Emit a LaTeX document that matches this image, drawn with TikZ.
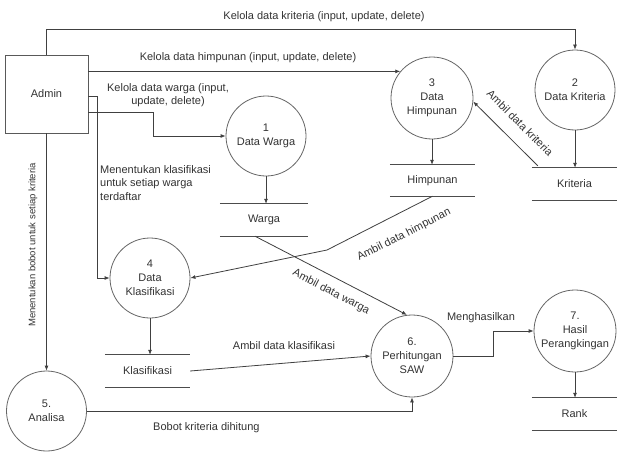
\documentclass[tikz,border=0pt]{standalone}
\usepackage{fontspec}
\setmainfont{Liberation Sans}
\usetikzlibrary{arrows.meta,calc}
\begin{document}
\begin{tikzpicture}[x=1pt,y=-1pt,
  every node/.style={text=black!80},
  ent/.style={draw=black!65, line width=0.8pt, minimum width=83pt, minimum height=78pt, inner sep=0pt, font=\fontsize{11}{13}\selectfont},
  proc/.style={circle, draw=black!60, line width=0.8pt, minimum size=80pt, inner sep=0pt, align=center, font=\fontsize{11}{14}\selectfont},
  store/.style={minimum width=85pt, minimum height=32pt, inner sep=0pt, font=\fontsize{11}{13}\selectfont},
  sline/.style={draw=black!70, line width=0.8pt},
  flow/.style={draw=black!75, line width=0.8pt, -{Latex[length=5pt,width=4pt]}},
  lbl/.style={font=\fontsize{11}{13.5}\selectfont, inner sep=1pt}
]
\useasboundingbox[fill=white] (0,0) rectangle (617,452);

% external entity
\node[ent] (admin) at (46.5,94) {Admin};

% processes
\node[proc] (p1) at (266,136) {1\\Data Warga};
\node[proc] (p2) at (575,90) {2\\Data Kriteria};
\node[proc, minimum size=82pt] (p3) at (432,98) {3\\Data\\Himpunan};
\node[proc] (p4) at (150,278) {4\\Data\\Klasifikasi};
\node[proc] (p5) at (46.5,411) {5.\\Analisa};
\node[proc, minimum size=82pt] (p6) at (412,356) {6.\\Perhitungan\\SAW};
\node[proc, minimum size=82pt] (p7) at (575,331) {7.\\Hasil\\Perangkingan};

% data stores
\node[store, minimum width=88pt] (s1) at (264,220) {Warga};
\node[store, minimum height=31pt] (s3) at (432.5,180.5) {Himpunan};
\node[store] (s2) at (574.5,184) {Kriteria};
\node[store] (s4) at (147.5,371) {Klasifikasi};
\node[store] (s7) at (574.5,414) {Rank};
\foreach \s in {s1,s2,s3,s4,s7}{
  \draw[sline] (\s.north west) -- (\s.north east);
  \draw[sline] (\s.south west) -- (\s.south east);
}

% flows
\draw[flow] (admin.north) -- ++(0,-25) -| (p2.north);
\node[lbl] (l1) at (324,17) {Kelola data kriteria (input, update, delete)};

\draw[flow] (admin.east |- p3.140) -- (p3.140);
\node[lbl] (l2) at (248,58) {Kelola data himpunan (input, update, delete)};

\coordinate (aw) at ($(admin.north east)+(0,58)$);
\draw[flow] (aw) -- ++(65,0) |- (p1.west);
\node[lbl, align=center] (l3) at (168,95) {Kelola data warga (input,\\update, delete)};

\coordinate (ak) at ($(admin.north east)+(0,42)$);
\draw[flow] (ak) -- ++(9,0) |- (p4.west);
\node[lbl, align=left, anchor=north west] (l4) at (99,164) {Menentukan klasifikasi\\untuk setiap warga\\terdaftar};

\draw[flow] (admin.south) -- (p5.north);
\node[lbl, rotate=90, font=\fontsize{9.5}{11}\selectfont] (l5) at (33,245) {Menentukan bobot untuk setiap kriteria};

\draw[flow] (p1.south) -- (p1.south |- s1.north);
\draw[flow] (p2.south) -- (p2.south |- s2.north);
\draw[flow] (p3.south) -- (p3.south |- s3.north);
\draw[flow] (p4.south) -- (p4.south |- s4.north);
\draw[flow] (p7.south) -- (p7.south |- s7.north);

\draw[flow] ($(s2.north west)+(6,-2)$) -- (p3.-5);
\node[lbl, rotate=-45] (l6) at (520,123) {Ambil data kriteria};

\coordinate (bh) at (327,250);
\draw[flow] (s3.south) -- (bh) -- (p4.east);
\node[lbl, rotate=27] (l7) at (404,235) {Ambil data himpunan};

\draw[flow] ($(s1.south)+(-9,0)$) -- (p6.97);
\node[lbl, rotate=-27.5] (l8) at (331,292) {Ambil data warga};

\draw[flow] (s4.east) -- (p6.west);
\node[lbl] (l9) at (284,346) {Ambil data klasifikasi};

\draw[flow] (p5.east) -| (p6.south);
\node[lbl, anchor=west] (l10) at (152,428) {Bobot kriteria dihitung};

\draw[flow] (p6.east) -- (493,356) |- (p7.west);
\node[lbl] (l11) at (481,318) {Menghasilkan};
\end{tikzpicture}
\end{document}
